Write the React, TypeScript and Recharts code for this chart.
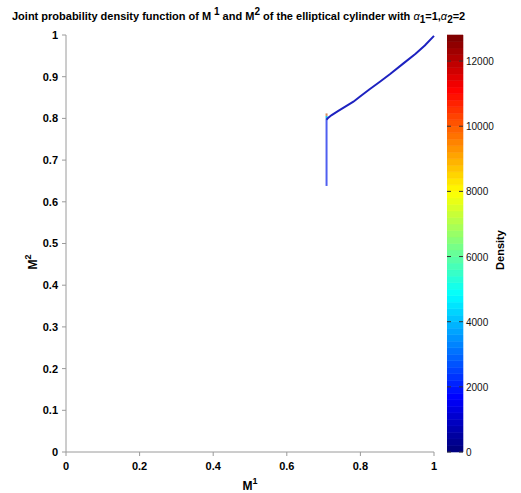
import { Bar, BarChart, Line, LineChart, XAxis, YAxis } from 'recharts';

// M1 / M2 values
const ridgeM1 = [0.708, 0.712, 0.722, 0.740, 0.760, 0.781, 0.800, 0.825, 0.853, 0.880, 0.917, 0.950, 0.975, 1.0];
const ridgeM2 = [0.797, 0.801, 0.808, 0.818, 0.829, 0.840, 0.853, 0.870, 0.888, 0.906, 0.932, 0.955, 0.975, 0.998];

const stemM1 = [0.708, 0.708];
const stemM2 = [0.638, 0.800];
const tipCyanM2 = [0.800, 0.806];
const tipOrangeM2 = [0.806, 0.812];

const xTicks = [0, 0.2, 0.4, 0.6, 0.8, 1];
const yTicks = [0, 0.1, 0.2, 0.3, 0.4, 0.5, 0.6, 0.7, 0.8, 0.9, 1];
const densityTicks = [0, 2000, 4000, 6000, 8000, 10000, 12000];
const densityMax = 12800;
const colorLevels = 64;

const ridge = ridgeM1.map((m1, i) => ({ m1, m2: ridgeM2[i] }));
const stem = stemM1.map((m1, i) => ({ m1, m2: stemM2[i] }));
const tipCyan = stemM1.map((m1, i) => ({ m1, m2: tipCyanM2[i] }));
const tipOrange = stemM1.map((m1, i) => ({ m1, m2: tipOrangeM2[i] }));

const clamp = (v: number) => Math.max(0, Math.min(1, v));
function jet(t: number) {
  const r = clamp(1.5 - Math.abs(4 * t - 3));
  const g = clamp(1.5 - Math.abs(4 * t - 2));
  const b = clamp(1.5 - Math.abs(4 * t - 1));
  return `rgb(${Math.round(r * 255)},${Math.round(g * 255)},${Math.round(b * 255)})`;
}

const bandKeys = Array.from({ length: colorLevels }, (_, i) => `b${i}`);
const colorRow: Record<string, number | string> = { name: 'density' };
bandKeys.forEach((k) => (colorRow[k] = densityMax / colorLevels));

const font = '"Liberation Sans", Arial, sans-serif';
const tickStyle = { fontSize: 11, fontWeight: 700, fill: '#000', fontFamily: font };
const axisGray = '#9a9a9a';

function DensityTick(props: any) {
  const { x, y, payload } = props;
  const edge = x - 3;
  return (
    <g>
      <line x1={edge - 16} x2={edge - 12} y1={y} y2={y} stroke="#333" strokeWidth={1} />
      <line x1={edge - 4} x2={edge} y1={y} y2={y} stroke="#333" strokeWidth={1} />
      <text x={x} y={y} dy={4} fontSize={10} fontFamily={font} fill="#111">
        {payload.value}
      </text>
    </g>
  );
}

export default function App() {
  return (
    <div style={{ position: 'absolute', left: 0, top: 0, width: 521, height: 493, background: '#fff', fontFamily: font }}>
      <div
        style={{
          position: 'absolute',
          left: 12,
          top: 2,
          fontSize: 11,
          fontWeight: 700,
          whiteSpace: 'nowrap',
          lineHeight: '20px',
        }}
      >
        Joint probability density function of M<sup style={{ fontSize: 10, verticalAlign: '5px' }}> 1</sup> and M
        <sup style={{ fontSize: 10, verticalAlign: '5px' }}>2</sup> of the elliptical cylinder with{' '}
        <span style={{ fontWeight: 400, fontStyle: 'italic' }}>α</span>
        <sub style={{ fontSize: 10, verticalAlign: '-3px' }}>1</sub>=1,
        <span style={{ fontWeight: 400, fontStyle: 'italic' }}>α</span>
        <sub style={{ fontSize: 10, verticalAlign: '-3px' }}>2</sub>=2
      </div>

      <div style={{ position: 'absolute', left: 0, top: 0 }}>
        <LineChart width={521} height={493} margin={{ top: 35, right: 87, bottom: 0, left: 0 }}>
          <XAxis
            dataKey="m1"
            type="number"
            domain={[0, 1]}
            ticks={xTicks}
            allowDuplicatedCategory={false}
            height={41}
            tick={tickStyle}
            tickSize={4}
            tickMargin={6}
            stroke={axisGray}
            label={{
              content: () => (
                <text x={250} y={490} textAnchor="middle" fontSize={12} fontWeight={700} fontFamily={font} fill="#000">
                  M
                  <tspan dy={-6} fontSize={9}>
                    1
                  </tspan>
                </text>
              ),
            }}
          />
          <YAxis
            dataKey="m2"
            type="number"
            domain={[0, 1]}
            ticks={yTicks}
            width={66}
            tick={tickStyle}
            tickSize={4}
            tickMargin={4}
            stroke={axisGray}
            label={{
              content: () => (
                <text
                  x={0}
                  y={0}
                  transform="translate(37 262) rotate(-90)"
                  textAnchor="middle"
                  fontSize={12}
                  fontWeight={700}
                  fontFamily={font}
                  fill="#000"
                >
                  M
                  <tspan dy={-6} fontSize={9}>
                    2
                  </tspan>
                </text>
              ),
            }}
          />
          <Line data={stem} dataKey="m2" stroke="#4f5ff0" strokeWidth={2} dot={false} isAnimationActive={false} />
          <Line data={tipCyan} dataKey="m2" stroke="#22c8e8" strokeWidth={2} dot={false} isAnimationActive={false} />
          <Line data={tipOrange} dataKey="m2" stroke="#d89060" strokeWidth={2} dot={false} isAnimationActive={false} />
          <Line data={ridge} dataKey="m2" stroke="#1d22c0" strokeWidth={2} dot={false} isAnimationActive={false} />
        </LineChart>
      </div>

      <div style={{ position: 'absolute', left: 447, top: 0 }}>
        <BarChart
          width={74}
          height={493}
          data={[colorRow]}
          margin={{ top: 35, right: 0, bottom: 41, left: 0 }}
          barCategoryGap={0}
        >
          <XAxis dataKey="name" hide />
          <YAxis
            orientation="right"
            type="number"
            domain={[0, densityMax]}
            ticks={densityTicks}
            width={58}
            axisLine={false}
            tickLine={false}
            tickSize={0}
            tickMargin={3}
            tick={<DensityTick />}
            label={{
              content: () => (
                <text
                  x={0}
                  y={0}
                  transform="translate(57 250) rotate(-90)"
                  textAnchor="middle"
                  fontSize={11}
                  fontWeight={700}
                  fontFamily={font}
                  fill="#000"
                >
                  Density
                </text>
              ),
            }}
          />
          {bandKeys.map((k, i) => {
            const c = jet(i / (colorLevels - 1));
            return (
              <Bar key={k} dataKey={k} stackId="c" fill={c} stroke={c} strokeWidth={0.6} isAnimationActive={false} />
            );
          })}
        </BarChart>
      </div>
    </div>
  );
}
